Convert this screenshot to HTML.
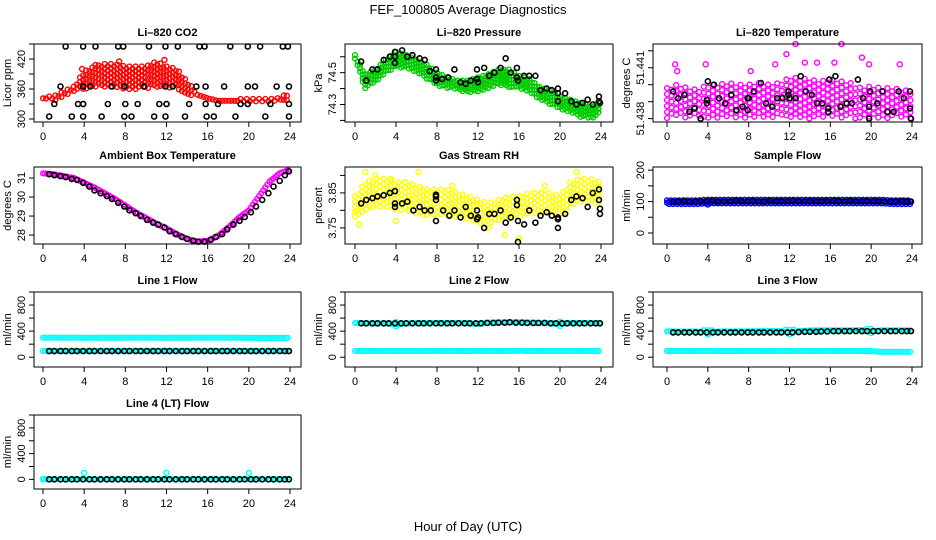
<!DOCTYPE html>
<html><head><meta charset="utf-8"><style>
html,body{margin:0;padding:0;background:#fff;}
svg{display:block;font-family:"Liberation Sans",sans-serif;}
</style></head><body>
<svg id="chart" width="936" height="540" viewBox="0 0 936 540">
<text x="468" y="14" text-anchor="middle" font-size="13">FEF_100805  Average Diagnostics</text>
<text x="468" y="531" text-anchor="middle" font-size="13">Hour of Day (UTC)</text>
</svg>
<script>
// ---- data ----
const hourGrid = [0,1,2,3,4,5,6,7,8,9,10,11,12,13,14,15,16,17,18,19,20,21,22,23,24];
const xTicks = [0,4,8,12,16,20,24];

const co2Lo = [338,335,345,352,360,365,365,362,360,360,362,360,362,360,348,345,338,333,333,332,332,332,332,333,338];
const co2Hi = [345,345,355,365,395,405,410,410,405,405,405,415,405,400,375,352,345,340,340,340,340,340,340,342,355];
const co2BlackH = [2.2,3.9,5.1,7.3,7.8,10.3,11.9,13.1,15.2,15.7,18.2,19.9,21.1,23.3,23.8, 1.7,3.9,4.6,6.7,7.9,9.8,11.9,12.6,14.9,15.8,17.6,19.9,20.6,22.7,23.9, 1.1,3.4,3.9,6.3,8.0,9.2,11.3,12.0,14.2,15.8,17.0,19.2,19.9,22.1,23.9, 0.6,2.8,3.9,5.7,7.9,8.6,10.8,11.9,13.8,15.9,16.6,18.7,21.6,23.9];
const co2BlackV = [445,445,445,445,445,445,445,445,445,445,445,445,445,445,445, 365,365,365,365,365,365,365,365,365,365,365,365,365,365,365, 330,330,330,330,330,330,330,330,330,330,330,330,330,330,330, 305,305,305,305,305,305,305,305,305,305,305,305,305,305];
const co2OutH = [3.9,12.0,19.9,3.8,11.8,7.4,5.1];
const co2OutV = [330,330,330,400,418,415,408];

const presLo = [74.57,74.40,74.44,74.50,74.53,74.53,74.50,74.46,74.42,74.40,74.39,74.37,74.38,74.40,74.42,74.41,74.40,74.38,74.33,74.30,74.27,74.25,74.22,74.21,74.24];
const presHi = [74.61,74.49,74.52,74.58,74.63,74.61,74.58,74.55,74.50,74.47,74.45,74.45,74.47,74.49,74.52,74.52,74.48,74.46,74.41,74.39,74.35,74.33,74.31,74.29,74.31];
const presBlackH = [0.6,1.1,1.7,2.2,2.8,3.4,3.9,3.9,3.9,4.6,5.1,5.6,6.3,6.8,7.3,7.9,7.9,7.9,8.5,9.1,9.7,10.3,10.8,11.3,11.9,11.9,12.0,12.6,13.1,13.6,14.2,14.7,15.2,15.8,15.8,15.9,16.5,17.0,17.6,18.1,18.7,19.2,19.8,19.8,19.8,20.5,21.1,21.6,22.2,22.7,23.2,23.8,23.8,23.9];
const presBlackV = [74.57,74.45,74.52,74.52,74.58,74.60,74.60,74.63,74.56,74.64,74.60,74.61,74.59,74.58,74.51,74.52,74.47,74.45,74.46,74.47,74.52,74.44,74.43,74.45,74.46,74.52,74.44,74.53,74.48,74.50,74.53,74.59,74.50,74.47,74.53,74.45,74.48,74.48,74.48,74.39,74.40,74.39,74.37,74.40,74.32,74.37,74.32,74.30,74.31,74.33,74.30,74.35,74.32,74.31];

const tempLo = [51.4380,51.4380,51.4380,51.4380,51.4380,51.4380,51.4380,51.4380,51.4380,51.4380,51.4380,51.4380,51.4380,51.4380,51.4380,51.4380,51.4380,51.4380,51.4380,51.4380,51.4380,51.4380,51.4380,51.4380,51.4380];
const tempHi = [51.4398,51.4400,51.4398,51.4397,51.4400,51.4400,51.4401,51.4400,51.4400,51.4401,51.4400,51.4401,51.4404,51.4404,51.4403,51.4402,51.4403,51.4402,51.4401,51.4398,51.4399,51.4398,51.4398,51.4397,51.4396];
const tempBlackH = [0.6,1.1,1.7,2.2,2.7,3.3,3.9,3.9,4.0,4.6,5.1,5.7,6.3,6.8,7.4,7.9,7.9,8.0,8.5,9.2,9.7,10.3,10.8,11.3,11.9,11.9,12.0,12.6,13.1,13.6,14.2,14.7,15.2,15.8,15.8,15.9,16.5,17.0,17.6,18.1,18.7,19.2,19.8,19.8,19.9,20.6,21.1,21.6,22.2,22.7,23.2,23.8,23.8,23.9];
const tempBlackV = [51.4396,51.4392,51.4394,51.4384,51.4386,51.4380,51.4389,51.4391,51.4402,51.4400,51.4392,51.4389,51.4394,51.4385,51.4387,51.4392,51.4385,51.4392,51.4396,51.4401,51.4389,51.4387,51.4392,51.4392,51.4396,51.4394,51.4392,51.4392,51.4405,51.4396,51.4394,51.4389,51.4389,51.4386,51.4384,51.4403,51.4405,51.4387,51.4389,51.4389,51.4403,51.4392,51.4387,51.4380,51.4396,51.4389,51.4396,51.4384,51.4384,51.4396,51.4392,51.4396,51.4386,51.4380];
const tempOutH = [0.8,3.8,11.7,12.6,17.1,19.1,19.8,22.8,10.6,14.7,13.5,16.4,1.0,8.2];
const tempOutV = [51.4412,51.4412,51.4418,51.4424,51.4424,51.4416,51.4412,51.4412,51.4412,51.4413,51.4413,51.4413,51.4408,51.4408];

const ambLo = [31.15,31.1,31.0,30.9,30.65,30.4,30.1,29.8,29.45,29.1,28.8,28.5,28.25,27.95,27.7,27.55,27.6,27.85,28.3,28.8,29.2,29.95,30.7,31.15,31.35];
const ambHi = [31.35,31.3,31.2,31.1,30.85,30.6,30.3,30.0,29.65,29.3,29.0,28.7,28.45,28.15,27.9,27.75,27.8,28.05,28.5,29.0,29.4,30.15,30.9,31.35,31.55];
const blackH = [0.6,1.1,1.7,2.2,2.8,3.3,3.9,4.5,5.0,5.6,6.2,6.7,7.3,7.9,8.4,9.0,9.5,10.1,10.7,11.2,11.8,12.3,12.9,13.5,14.0,14.6,15.1,15.7,16.3,16.8,17.4,17.9,18.5,19.1,19.6,20.2,20.7,21.3,21.9,22.4,23.0,23.5,23.9];
const ambBlackV = [31.2,31.15,31.1,31.05,30.95,30.9,30.75,30.55,30.35,30.2,30.05,29.9,29.7,29.5,29.3,29.15,29.0,28.8,28.65,28.55,28.4,28.2,28.05,27.9,27.8,27.7,27.65,27.65,27.75,27.9,28.05,28.3,28.55,28.75,28.95,29.2,29.5,29.85,30.2,30.55,30.85,31.15,31.35];

const rhLo = [3.77,3.80,3.81,3.81,3.80,3.80,3.79,3.78,3.79,3.78,3.78,3.77,3.76,3.76,3.77,3.77,3.78,3.79,3.79,3.79,3.78,3.81,3.82,3.82,3.82];
const rhHi = [3.84,3.88,3.89,3.89,3.88,3.88,3.87,3.86,3.86,3.86,3.85,3.84,3.83,3.82,3.83,3.84,3.84,3.85,3.85,3.85,3.84,3.88,3.89,3.89,3.88];
const rhBlackH = [0.6,1.1,1.7,2.2,2.8,3.4,3.9,3.9,3.9,4.6,5.1,5.7,6.3,6.8,7.4,7.9,7.9,7.9,7.9,8.6,9.2,9.7,10.3,10.8,11.3,11.9,11.9,12.0,12.6,13.1,13.6,14.2,14.7,15.2,15.8,15.8,15.9,15.9,16.5,17.0,17.6,18.1,18.7,19.2,19.8,19.8,19.8,20.5,21.1,21.6,22.2,22.7,23.2,23.8,23.8,23.9,23.9];
const rhBlackV = [3.82,3.83,3.835,3.84,3.843,3.85,3.855,3.81,3.82,3.82,3.825,3.80,3.81,3.80,3.80,3.84,3.83,3.77,3.845,3.80,3.785,3.80,3.78,3.81,3.785,3.80,3.775,3.78,3.75,3.79,3.79,3.80,3.765,3.78,3.83,3.815,3.77,3.71,3.76,3.80,3.765,3.785,3.795,3.785,3.78,3.775,3.75,3.79,3.83,3.84,3.835,3.81,3.85,3.86,3.83,3.805,3.79];
const rhOutH = [0.4,1.0,4.0,6.2,14.6,16.0,21.6,2.0,0.2,3.5,9.5,13.0,18.5];
const rhOutV = [3.76,3.91,3.77,3.91,3.73,3.72,3.91,3.90,3.80,3.89,3.87,3.75,3.87];

const sampLo = [90,90,89,89,90,92,92,92,92,92,92,92,92,92,92,92,92,92,92,92,92,92,89,89,89];
const sampHi = [104,104,104,104,106,106,106,106,106,106,106,106,106,106,106,106,106,106,106,106,106,106,104,104,104];
const sampBlackV = [100,100,102,100,100,101,101,103,100,100,101,103,101,101,102,101,100,103,101,101,102,103,101,101,101,102,101,102,103,101,101,103,101,101,101,102,101,100,100,100,102,100,100];

const l1UpLo = [285,285,285,285,280,285,285,285,285,285,285,285,282,285,285,285,285,285,285,285,280,283,283,283,283];
const l1UpHi = [315,315,315,315,315,315,315,315,315,315,315,315,315,315,315,315,315,315,315,315,315,310,310,310,310];
const l1LoLo = [85,85,85,85,85,85,85,85,85,85,85,85,85,85,85,85,85,85,85,85,85,85,85,85,85];
const l1LoHi = [105,105,105,105,105,105,105,105,105,105,105,105,105,105,105,105,105,105,105,105,105,105,105,105,105];
const l1BlackV = [95,95,95,95,95,95,95,95,95,95,95,95,95,95,95,95,95,95,95,95,95,95,95,95,95,95,95,95,95,95,95,95,95,95,95,95,95,95,95,95,95,95,95];

const l2UpLo = [505,500,500,500,470,500,505,505,505,505,505,505,480,505,510,510,510,510,505,505,470,505,505,505,505];
const l2UpHi = [545,540,540,540,540,540,540,540,540,540,540,540,540,555,560,560,560,555,545,545,545,545,540,540,540];
const l2LoLo = [85,85,85,85,85,85,85,85,85,85,85,85,85,85,85,85,85,85,85,85,85,85,85,85,85];
const l2LoHi = [105,105,105,105,105,105,105,105,110,105,105,105,110,105,105,105,115,105,105,105,105,105,105,105,105];
const l2BlackV = [520,520,520,520,520,520,520,520,520,520,520,520,520,520,520,520,520,520,520,520,520,520,525,525,530,530,535,530,530,525,525,525,525,520,520,520,520,520,520,520,520,520,520];

const l3UpLo = [375,370,370,370,340,370,370,370,375,375,375,375,340,380,390,395,395,395,395,395,360,395,395,395,395];
const l3UpHi = [420,415,415,415,415,415,420,420,420,425,425,425,420,425,430,430,430,430,430,440,435,430,430,430,430];
const l3LoLo = [85,85,85,85,85,85,85,85,85,85,85,85,85,85,85,85,85,85,85,85,85,60,60,60,60];
const l3LoHi = [105,105,105,105,105,105,105,105,105,105,105,105,105,105,105,105,105,105,105,105,105,105,105,105,105];
const l3BlackV = [380,380,380,380,380,380,380,380,380,380,380,380,380,380,380,380,380,380,380,380,380,380,385,390,390,390,395,395,400,400,400,400,400,400,400,400,400,400,400,400,400,400,400];

const l4LoLo = [-8,-8,-8,-8,-8,-8,-8,-8,-8,-8,-8,-8,-8,-8,-8,-8,-8,-8,-8,-8,-8,-8,-8,-8,-8];
const l4LoHi = [8,8,8,8,8,8,8,8,8,8,8,8,8,8,8,8,8,8,8,8,8,8,8,8,8];
const l4OutH = [4.0,12.0,20.0,0.0,0.1];
const l4OutV = [100,100,100,5,5];
const l4BlackV = [0,0,0,0,0,0,0,0,0,0,0,0,0,0,0,0,0,0,0,0,0,0,0,0,0,0,0,0,0,0,0,0,0,0,0,0,0,0,0,0,0,0,0];

// ---- layout ----
const NS = 'http://www.w3.org/2000/svg';
const svg = document.getElementById('chart');
const cols = [{bl:34,br:301,h0:43,h24:290},{bl:345,br:613,h0:355,h24:601},{bl:653,br:922,h0:667,h24:912}];
const rows = [{t:44,b:122},{t:167,b:244},{t:292,b:367},{t:415,b:489}];

function mk(tag, attrs, parent){
  const e = document.createElementNS(NS, tag);
  for (const k in attrs) e.setAttribute(k, attrs[k]);
  (parent||svg).appendChild(e);
  return e;
}
function interp(H, V, t){
  if (t <= H[0]) return V[0];
  for (let i=1;i<H.length;i++){ if (t <= H[i]){ const f=(t-H[i-1])/(H[i]-H[i-1]); return V[i-1]+f*(V[i]-V[i-1]); } }
  return V[V.length-1];
}

function panel(p){
  const c = cols[p.col], r = rows[p.row];
  const g = mk('g', {});
  
  
  const xs = h => c.h0 + (h/24)*(c.h24-c.h0);
  const ys = v => r.b - (v-p.ymin)/(p.ymax-p.ymin)*(r.b-r.t);
  const tt = mk('text', {x:(c.bl+c.br)/2, y:r.t-8, 'text-anchor':'middle', 'font-size':11, 'font-weight':'bold'}, g);
  tt.textContent = p.title;
  
  
  const marks = mk('g', {fill:'none', 'stroke-width':1.4}, g);
  (p.bands||[]).forEach(bd => {
    const bg = mk('g', {stroke:bd.color}, marks);
    
    
    const xst = bd.xs || 0.4, yst = bd.ys || 4.5;
    let col = 0;
    for (let t=0; t<=23.95; t+=xst, col++){
      const y1 = ys(interp(hourGrid, bd.lo, t)), y2 = ys(interp(hourGrid, bd.hi, t));
      const top = Math.min(y1,y2), bot = Math.max(y1,y2);
      if (bot-top < 4){ mk('circle', {cx:xs(t).toFixed(1), cy:((top+bot)/2).toFixed(1), r:2.4}, bg); continue; }
      const off = (col%2) ? yst/2 : 0;
      for (let y=top+off; y<=bot; y+=yst){
        mk('circle', {cx:xs(t).toFixed(1), cy:y.toFixed(1), r:2.4}, bg);
      }
    }
  });
  (p.outs||[]).forEach(o => {
    const og = mk('g', {stroke:o.color}, marks);
    
    
    o.h.forEach((h,i) => { mk('circle', {cx:xs(h), cy:ys(o.v[i]), r:2.5}, og); });
  });
  const kg = mk('g', {stroke:'#000', 'stroke-width':1.6}, marks);
  
  
  p.bh.forEach((h,i) => { mk('circle', {cx:xs(h), cy:ys(p.bv[i]), r:2.5}, kg); });
  const box = mk('rect', {x:c.bl, y:r.t, width:c.br-c.bl, height:r.b-r.t, fill:'none', stroke:'#000', 'stroke-width':1}, g);
  
  
  const xa = mk('g', {stroke:'#000', 'font-size':11}, g);
  
  
  mk('line', {x1:xs(0), x2:xs(24), y1:r.b, y2:r.b}, xa);
  xTicks.forEach(v => {
    mk('line', {x1:xs(v), x2:xs(v), y1:r.b, y2:r.b+5}, xa);
    const t = mk('text', {x:xs(v), y:r.b+18, 'text-anchor':'middle', stroke:'none', fill:'#000'}, xa);
    t.textContent = v;
  });
  const ya = mk('g', {stroke:'#000', 'font-size':11}, g);
  
  
  mk('line', {x1:c.bl, x2:c.bl, y1:ys(p.yt[0]), y2:ys(p.yt[p.yt.length-1])}, ya);
  p.yt.forEach(v => { mk('line', {x1:c.bl-5, x2:c.bl, y1:ys(v), y2:ys(v)}, ya); });
  p.yl.forEach(v => {
    const t = mk('text', {x:c.bl-9, y:ys(v), 'text-anchor':'middle', stroke:'none', fill:'#000', transform:`rotate(-90 ${c.bl-9} ${ys(v)})`}, ya);
    t.textContent = v;
  });
  const yt = mk('text', {x:c.bl-23, y:(r.t+r.b)/2, 'text-anchor':'middle', 'font-size':11, transform:`rotate(-90 ${c.bl-23} ${(r.t+r.b)/2})`}, g);
  yt.textContent = p.ylab;
  
  
}

const flowTicks = [0,200,400,600,800,1000];
const flowLabels = [0,400,800];
panel({name:'co2-panel', title:'Li\u2013820 CO2', col:0,row:0, ymin:294, ymax:450, yt:[300,330,360,390,420,450], yl:[300,360,420], ylab:'Licor ppm',
  bands:[{color:'#ff0000', lo:co2Lo, hi:co2Hi, xs:0.3, ys:4.5}], outs:[{color:'#ff0000', h:co2OutH, v:co2OutV}], bh:co2BlackH, bv:co2BlackV});
panel({name:'pressure-panel', title:'Li\u2013820 Pressure', col:1,row:0, ymin:74.19, ymax:74.68, yt:[74.2,74.3,74.4,74.5,74.6], yl:['74.3','74.5'], ylab:'kPa',
  bands:[{color:'#00cc00', lo:presLo, hi:presHi, xs:0.25, ys:3.5}], bh:presBlackH, bv:presBlackV});
panel({name:'licor-temperature-panel', title:'Li\u2013820 Temperature', col:2,row:0, ymin:51.4378, ymax:51.4424, yt:[51.438,51.439,51.440,51.441,51.442], yl:['51.438','51.441'], ylab:'degrees C',
  bands:[{color:'#ff00ff', lo:tempLo, hi:tempHi, xs:0.45, ys:6}], outs:[{color:'#ff00ff', h:tempOutH, v:tempOutV}], bh:tempBlackH, bv:tempBlackV});
panel({name:'ambient-temperature-panel', title:'Ambient Box Temperature', col:0,row:1, ymin:27.53, ymax:31.58, yt:[28,29,30,31], yl:[28,29,30,31], ylab:'degrees C',
  bands:[{color:'#ff00ff', lo:ambLo, hi:ambHi, xs:0.2}], bh:blackH, bv:ambBlackV});
panel({name:'rh-panel', title:'Gas Stream RH', col:1,row:1, ymin:3.704, ymax:3.924, yt:[3.75,3.80,3.85,3.90], yl:['3.75','3.85'], ylab:'percent',
  bands:[{color:'#ffff00', lo:rhLo, hi:rhHi, xs:0.35, ys:5}], outs:[{color:'#ffff00', h:rhOutH, v:rhOutV}], bh:rhBlackH, bv:rhBlackV});
panel({name:'sample-flow-panel', title:'Sample Flow', col:2,row:1, ymin:-35, ymax:210, yt:[0,50,100,150,200], yl:[0,100,200], ylab:'ml/min',
  bands:[{color:'#0000ff', lo:sampLo, hi:sampHi, xs:0.2, ys:2.5}], bh:blackH, bv:sampBlackV});
panel({name:'line1-flow-panel', title:'Line 1 Flow', col:0,row:2, ymin:-150, ymax:1000, yt:flowTicks, yl:flowLabels, ylab:'ml/min',
  bands:[{color:'#00ffff', lo:l1UpLo, hi:l1UpHi, xs:0.2},{color:'#00ffff', lo:l1LoLo, hi:l1LoHi, xs:0.2}], bh:blackH, bv:l1BlackV});
panel({name:'line2-flow-panel', title:'Line 2 Flow', col:1,row:2, ymin:-150, ymax:1000, yt:flowTicks, yl:flowLabels, ylab:'ml/min',
  bands:[{color:'#00ffff', lo:l2UpLo, hi:l2UpHi, xs:0.2},{color:'#00ffff', lo:l2LoLo, hi:l2LoHi, xs:0.2}], bh:blackH, bv:l2BlackV});
panel({name:'line3-flow-panel', title:'Line 3 Flow', col:2,row:2, ymin:-150, ymax:1000, yt:flowTicks, yl:flowLabels, ylab:'ml/min',
  bands:[{color:'#00ffff', lo:l3UpLo, hi:l3UpHi, xs:0.2},{color:'#00ffff', lo:l3LoLo, hi:l3LoHi, xs:0.2}], bh:blackH, bv:l3BlackV});
panel({name:'line4-flow-panel', title:'Line 4 (LT) Flow', col:0,row:3, ymin:-150, ymax:1000, yt:flowTicks, yl:flowLabels, ylab:'ml/min',
  bands:[{color:'#00ffff', lo:l4LoLo, hi:l4LoHi, xs:0.3}], outs:[{color:'#00ffff', h:l4OutH, v:l4OutV}], bh:blackH, bv:l4BlackV});
</script>
</body></html>
